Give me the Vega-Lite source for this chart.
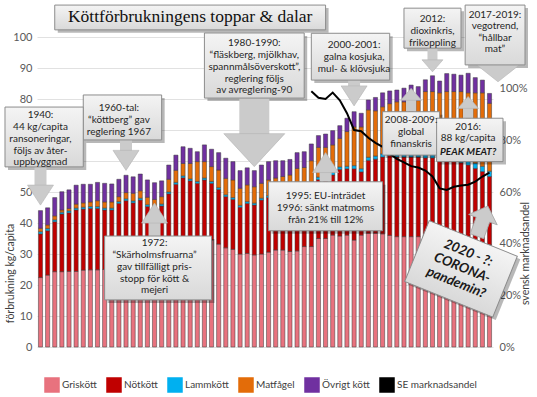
{
  "$schema": "https://vega.github.io/schema/vega-lite/v6.json",
  "width": 456,
  "height": 310,
  "autosize": {"type": "none"},
  "padding": {"left": 37, "top": 37, "right": 44, "bottom": 50},
  "background": "white",
  "config": {
    "view": {"stroke": null},
    "axis": {"labelFont": "Lato", "titleFont": "Lato", "labelColor": "#595959", "titleColor": "#404040", "titleFontWeight": "normal", "domain": false, "ticks": false},
    "text": {"font": "Lato"}
  },
  "datasets": {
    "ordning": [
      {"slag": "Griskött", "ord": 1}, {"slag": "Nötkött", "ord": 2}, {"slag": "Lammkött", "ord": 3}, {"slag": "Matfågel", "ord": 4}, {"slag": "Övrigt kött", "ord": 5}
    ],
    "kott": [
      {"år": "1940", "Griskött": 22.4, "Nötkött": 14.1, "Lammkött": 0.7, "Matfågel": 1.1, "Övrigt kött": 5.7},
      {"år": "1945", "Griskött": 23.2, "Nötkött": 14.3, "Lammkött": 0.7, "Matfågel": 1.2, "Övrigt kött": 5.5},
      {"år": "1950", "Griskött": 24.3, "Nötkött": 16.1, "Lammkött": 0.6, "Matfågel": 1.3, "Övrigt kött": 5.9},
      {"år": "1955", "Griskött": 24.3, "Nötkött": 18.6, "Lammkött": 0.6, "Matfågel": 0.7, "Övrigt kött": 5.9},
      {"år": "1960", "Griskött": 24.4, "Nötkött": 18.9, "Lammkött": 0.6, "Matfågel": 0.8, "Övrigt kött": 6.0},
      {"år": "1961", "Griskött": 24.4, "Nötkött": 19.8, "Lammkött": 0.6, "Matfågel": 1.3, "Övrigt kött": 6.1},
      {"år": "1962", "Griskött": 24.8, "Nötkött": 19.7, "Lammkött": 0.6, "Matfågel": 1.4, "Övrigt kött": 6.0},
      {"år": "1963", "Griskött": 24.9, "Nötkött": 19.8, "Lammkött": 0.6, "Matfågel": 1.5, "Övrigt kött": 5.7},
      {"år": "1964", "Griskött": 24.9, "Nötkött": 19.8, "Lammkött": 0.6, "Matfågel": 1.9, "Övrigt kött": 5.9},
      {"år": "1965", "Griskött": 25.0, "Nötkött": 19.2, "Lammkött": 0.6, "Matfågel": 2.0, "Övrigt kött": 6.0},
      {"år": "1966", "Griskött": 25.5, "Nötkött": 18.7, "Lammkött": 0.6, "Matfågel": 2.0, "Övrigt kött": 5.8},
      {"år": "1967", "Griskött": 26.0, "Nötkött": 20.3, "Lammkött": 0.6, "Matfågel": 1.6, "Övrigt kött": 5.6},
      {"år": "1968", "Griskött": 27.0, "Nötkött": 20.2, "Lammkött": 0.6, "Matfågel": 2.0, "Övrigt kött": 5.6},
      {"år": "1969", "Griskött": 27.5, "Nötkött": 19.0, "Lammkött": 0.6, "Matfågel": 2.5, "Övrigt kött": 5.3},
      {"år": "1970", "Griskött": 28.0, "Nötkött": 19.4, "Lammkött": 0.6, "Matfågel": 2.4, "Övrigt kött": 5.4},
      {"år": "1971", "Griskött": 28.5, "Nötkött": 16.8, "Lammkött": 0.6, "Matfågel": 2.4, "Övrigt kött": 5.6},
      {"år": "1972", "Griskött": 28.0, "Nötkött": 16.4, "Lammkött": 0.6, "Matfågel": 2.6, "Övrigt kött": 5.4},
      {"år": "1973", "Griskött": 29.0, "Nötkött": 16.5, "Lammkött": 0.6, "Matfågel": 2.4, "Övrigt kött": 5.1},
      {"år": "1974", "Griskött": 30.5, "Nötkött": 18.9, "Lammkött": 0.6, "Matfågel": 4.1, "Övrigt kött": 4.6},
      {"år": "1975", "Griskött": 32.0, "Nötkött": 20.5, "Lammkött": 0.6, "Matfågel": 3.9, "Övrigt kött": 4.9},
      {"år": "1976", "Griskött": 33.0, "Nötkött": 21.6, "Lammkött": 0.6, "Matfågel": 4.0, "Övrigt kött": 5.4},
      {"år": "1977", "Griskött": 33.0, "Nötkött": 20.6, "Lammkött": 0.6, "Matfågel": 5.0, "Övrigt kött": 4.9},
      {"år": "1978", "Griskött": 33.5, "Nötkött": 19.3, "Lammkött": 0.6, "Matfågel": 6.4, "Övrigt kött": 3.2},
      {"år": "1979", "Griskött": 34.5, "Nötkött": 19.4, "Lammkött": 0.6, "Matfågel": 5.3, "Övrigt kött": 5.4},
      {"år": "1980", "Griskött": 34.5, "Nötkött": 18.3, "Lammkött": 0.6, "Matfågel": 4.8, "Övrigt kött": 5.6},
      {"år": "1981", "Griskött": 33.2, "Nötkött": 17.6, "Lammkött": 0.6, "Matfågel": 5.7, "Övrigt kött": 5.6},
      {"år": "1982", "Griskött": 32.0, "Nötkött": 16.5, "Lammkött": 0.6, "Matfågel": 5.3, "Övrigt kött": 6.5},
      {"år": "1983", "Griskött": 31.5, "Nötkött": 16.1, "Lammkött": 0.6, "Matfågel": 5.7, "Övrigt kött": 5.9},
      {"år": "1984", "Griskött": 30.0, "Nötkött": 15.1, "Lammkött": 0.6, "Matfågel": 5.5, "Övrigt kött": 5.7},
      {"år": "1985", "Griskött": 30.2, "Nötkött": 16.1, "Lammkött": 0.6, "Matfågel": 5.4, "Övrigt kött": 5.5},
      {"år": "1986", "Griskött": 29.7, "Nötkött": 16.1, "Lammkött": 0.6, "Matfågel": 5.3, "Övrigt kött": 5.2},
      {"år": "1987", "Griskött": 30.0, "Nötkött": 17.4, "Lammkött": 0.6, "Matfågel": 4.8, "Övrigt kött": 5.9},
      {"år": "1988", "Griskött": 30.6, "Nötkött": 17.6, "Lammkött": 0.6, "Matfågel": 5.1, "Övrigt kött": 5.9},
      {"år": "1989", "Griskött": 31.3, "Nötkött": 17.2, "Lammkött": 0.6, "Matfågel": 5.4, "Övrigt kött": 5.6},
      {"år": "1990", "Griskött": 31.3, "Nötkött": 17.2, "Lammkött": 0.6, "Matfågel": 5.9, "Övrigt kött": 5.1},
      {"år": "1991", "Griskött": 30.8, "Nötkött": 17.2, "Lammkött": 0.8, "Matfågel": 6.7, "Övrigt kött": 5.0},
      {"år": "1992", "Griskött": 31.0, "Nötkött": 18.0, "Lammkött": 0.8, "Matfågel": 7.8, "Övrigt kött": 5.1},
      {"år": "1993", "Griskött": 32.4, "Nötkött": 17.6, "Lammkött": 0.8, "Matfågel": 7.1, "Övrigt kött": 5.1},
      {"år": "1994", "Griskött": 32.4, "Nötkött": 19.6, "Lammkött": 0.8, "Matfågel": 7.3, "Övrigt kött": 5.4, "andel": 0.99},
      {"år": "1995", "Griskött": 35.0, "Nötkött": 19.0, "Lammkött": 0.8, "Matfågel": 9.6, "Övrigt kött": 3.8, "andel": 0.965},
      {"år": "1996", "Griskött": 35.0, "Nötkött": 19.5, "Lammkött": 0.8, "Matfågel": 9.1, "Övrigt kött": 4.3, "andel": 0.96},
      {"år": "1997", "Griskött": 36.1, "Nötkött": 19.4, "Lammkött": 0.8, "Matfågel": 8.9, "Övrigt kött": 4.6, "andel": 0.985},
      {"år": "1998", "Griskött": 35.8, "Nötkött": 21.5, "Lammkött": 0.8, "Matfågel": 9.2, "Övrigt kött": 4.1, "andel": 0.955},
      {"år": "1999", "Griskött": 36.1, "Nötkött": 21.4, "Lammkött": 0.8, "Matfågel": 11.2, "Övrigt kött": 4.3, "andel": 0.905},
      {"år": "2000", "Griskött": 34.5, "Nötkött": 23.0, "Lammkött": 1.0, "Matfågel": 12.5, "Övrigt kött": 4.9, "andel": 0.84},
      {"år": "2001", "Griskött": 36.1, "Nötkött": 20.4, "Lammkött": 1.0, "Matfågel": 13.5, "Övrigt kött": 4.4, "andel": 0.835},
      {"år": "2002", "Griskött": 36.7, "Nötkött": 23.5, "Lammkött": 1.0, "Matfågel": 15.3, "Övrigt kött": 3.2, "andel": 0.81},
      {"år": "2003", "Griskött": 36.7, "Nötkött": 23.9, "Lammkött": 1.0, "Matfågel": 14.6, "Övrigt kött": 4.3, "andel": 0.79},
      {"år": "2004", "Griskött": 36.5, "Nötkött": 24.8, "Lammkött": 1.0, "Matfågel": 15.2, "Övrigt kött": 4.5, "andel": 0.775},
      {"år": "2005", "Griskött": 36.0, "Nötkött": 25.8, "Lammkött": 1.0, "Matfågel": 15.7, "Övrigt kött": 4.1, "andel": 0.748},
      {"år": "2006", "Griskött": 35.6, "Nötkött": 25.7, "Lammkött": 1.0, "Matfågel": 16.8, "Övrigt kött": 3.8, "andel": 0.728},
      {"år": "2007", "Griskött": 35.6, "Nötkött": 25.7, "Lammkött": 1.0, "Matfågel": 16.8, "Övrigt kött": 4.4, "andel": 0.715},
      {"år": "2008", "Griskött": 35.6, "Nötkött": 25.7, "Lammkött": 1.0, "Matfågel": 17.7, "Övrigt kött": 4.5, "andel": 0.70},
      {"år": "2009", "Griskött": 35.6, "Nötkött": 25.7, "Lammkött": 1.0, "Matfågel": 17.2, "Övrigt kött": 4.5, "andel": 0.695},
      {"år": "2010", "Griskött": 35.5, "Nötkött": 25.5, "Lammkött": 1.2, "Matfågel": 20.2, "Övrigt kött": 3.8, "andel": 0.683},
      {"år": "2011", "Griskött": 35.5, "Nötkött": 25.5, "Lammkött": 1.2, "Matfågel": 20.2, "Övrigt kött": 5.1, "andel": 0.66},
      {"år": "2012", "Griskött": 35.0, "Nötkött": 25.5, "Lammkött": 1.3, "Matfågel": 20.2, "Övrigt kött": 3.8, "andel": 0.614},
      {"år": "2013", "Griskött": 35.0, "Nötkött": 25.3, "Lammkött": 1.3, "Matfågel": 20.8, "Övrigt kött": 5.8, "andel": 0.608},
      {"år": "2014", "Griskött": 35.0, "Nötkött": 25.0, "Lammkött": 1.3, "Matfågel": 21.1, "Övrigt kött": 5.6, "andel": 0.62},
      {"år": "2015", "Griskött": 34.8, "Nötkött": 24.7, "Lammkött": 1.4, "Matfågel": 21.5, "Övrigt kött": 5.3, "andel": 0.625},
      {"år": "2016", "Griskött": 34.5, "Nötkött": 24.2, "Lammkött": 1.5, "Matfågel": 21.8, "Övrigt kött": 6.3, "andel": 0.628},
      {"år": "2017", "Griskött": 34.0, "Nötkött": 23.6, "Lammkött": 1.7, "Matfågel": 22.7, "Övrigt kött": 4.9, "andel": 0.64},
      {"år": "2018", "Griskött": 33.5, "Nötkött": 23.1, "Lammkött": 1.7, "Matfågel": 23.7, "Övrigt kött": 4.1, "andel": 0.66},
      {"år": "2019", "Griskött": 33.0, "Nötkött": 22.0, "Lammkött": 1.7, "Matfågel": 21.9, "Övrigt kött": 3.2, "andel": 0.675}
    ],
    "rutor": [
      {"id": "titel", "typ": "vanlig", "x1": "1950", "x2": "1996", "yt": 110.3, "yb": 102.3},
      {"id": "1960", "typ": "vanlig", "x1": "1962", "x2": "1973", "yt": 81.3, "yb": 66.8},
      {"id": "1980", "typ": "vanlig", "x1": "1979", "x2": "1993", "yt": 101.3, "yb": 80.3},
      {"id": "2000", "typ": "vanlig", "x1": "1994", "x2": "2005", "yt": 101.2, "yb": 86.1},
      {"id": "2012", "typ": "vanlig", "x1": "2007", "x2": "2015", "yt": 109.3, "yb": 96.4},
      {"id": "2008", "typ": "vanlig", "x1": "2004", "x2": "2012", "yt": 75.9, "yb": 61.9},
      {"id": "1995", "typ": "vanlig", "x1": "1988", "x2": "2004", "yt": 53.3, "yb": 37.5},
      {"id": "1972", "typ": "vanlig", "x1": "1965", "x2": "1980", "yt": 35.8, "yb": 15.2},
      {"id": "1940", "typ": "vanster", "x1": "1940", "x2": "1962", "yt": 77.4, "yb": 58.1},
      {"id": "2016", "typ": "hoger1", "x1": "2012", "x2": "2019", "yt": 73.8, "yb": 59.8},
      {"id": "2017", "typ": "hoger2", "x1": "2016", "x2": "2019", "yt": 110.3, "yb": 91.0}
    ],
    "texter": [
      {"id": "1940", "cx": "1940", "cy": 74.8, "txt": "1940:\n44 kg/capita\nransoneringar,\nföljs av åter-\nuppbyggnad"},
      {"id": "1960", "cx": "1967", "cy": 77.1, "txt": "1960-tal:\n“köttberg” gav\nreglering 1967"},
      {"id": "1980", "cx": "1986", "cy": 98.0, "txt": "1980-1990:\n“fläskberg, mjölkhav,\nspannmålsöverskott”,\nreglering följs\nav avreglering-90"},
      {"id": "2000", "cx": "2000", "cy": 97.4, "txt": "2000-2001:\ngalna kosjuka,\nmul- & klövsjuka"},
      {"id": "2012", "cx": "2011", "cy": 105.8, "txt": "2012:\ndioxinkris,\nfrikoppling"},
      {"id": "2008", "cx": "2008", "cy": 73.2, "txt": "2008-2009:\nglobal\nfinanskris"},
      {"id": "1995", "cx": "1996", "cy": 48.7, "txt": "1995: EU-inträdet\n1996: sänkt matmoms\nfrån 21% till 12%"},
      {"id": "1972", "cx": "1972", "cy": 33.5, "txt": "1972:\n“Skärholmsfruarna”\ngav tillfälligt pris-\nstopp för kött &\nmejeri"},
      {"id": "2016", "cx": "2016", "cy": 71.1, "txt": "2016:\n88 kg/capita"},
      {"id": "peak", "cx": "2016", "cy": 63.0, "txt": "PEAK MEAT?"},
      {"id": "2017", "cx": "2019", "cy": 107.1, "txt": "2017-2019:\nvegotrend,\n“hållbar\nmat”"},
      {"id": "titel", "cx": "1977", "cy": 106.3, "txt": "Köttförbrukningens toppar & dalar"},
      {"id": "corona", "cx": "2015", "cy": 25.2, "txt": ""},
      {"id": "coronatext", "cx": "2016", "cy": 30.3, "txt": "2020 - ?:\nCORONA-\npandemin?"}
    ],
    "pilar": [
      {"id": "1940", "typ": "ned", "x": "1940", "s1": 58.1, "s2": 51.0, "h": 49.0},
      {"id": "1960", "typ": "ned", "x": "1968", "s1": 66.8, "s2": 62.0, "h": 60.2},
      {"id": "1980", "typ": "stor", "x": "1986", "s1": 80.3, "s2": 66.0, "h": 63.5},
      {"id": "2000", "typ": "ned", "x": "2000", "s1": 86.1, "s2": 82.8, "h": 81.0},
      {"id": "2012", "typ": "ned2", "x": "2011", "s1": 96.4, "s2": 91.5, "h": 90.7},
      {"id": "2017", "typ": "bred", "x": "2019", "s1": 91.0, "s2": 91.0, "h": 88.3},
      {"id": "2008", "typ": "upp2", "x": "2008", "s1": 75.9, "s2": 80.5, "h": 81.5},
      {"id": "2016", "typ": "upp2", "x": "2016", "s1": 73.8, "s2": 78.0, "h": 78.9},
      {"id": "1995", "typ": "upp", "x": "1996", "s1": 53.3, "s2": 57.8, "h": 59.5},
      {"id": "1972", "typ": "upp", "x": "1972", "s1": 35.8, "s2": 41.5, "h": 43.2},
      {"id": "corona", "typ": "snett", "x": "2018", "s1": 40.6, "s2": 40.6, "h": 40.6}
    ]
  },
  "resolve": {"scale": {"y": "independent"}},
  "layer": [
    {
      "data": {"name": "kott"},
      "transform": [
        {"fold": ["Griskött", "Nötkött", "Lammkött", "Matfågel", "Övrigt kött"], "as": ["slag", "kg"]},
        {"lookup": "slag", "from": {"data": {"name": "ordning"}, "key": "slag", "fields": ["ord"]}}
      ],
      "mark": {"type": "bar", "stroke": "#3b3b3b", "strokeWidth": 0.5},
      "encoding": {
        "x": {
          "field": "år", "type": "ordinal",
          "scale": {"domain": ["1940","1945","1950","1955","1960","1961","1962","1963","1964","1965","1966","1967","1968","1969","1970","1971","1972","1973","1974","1975","1976","1977","1978","1979","1980","1981","1982","1983","1984","1985","1986","1987","1988","1989","1990","1991","1992","1993","1994","1995","1996","1997","1998","1999","2000","2001","2002","2003","2004","2005","2006","2007","2008","2009","2010","2011","2012","2013","2014","2015","2016","2017","2018","2019"], "paddingInner": 0.42, "paddingOuter": 0.2},
          "axis": {"title": null, "values": ["1940","1950","1960","1962","1964","1966","1968","1970","1972","1974","1976","1978","1980","1982","1984","1986","1988","1990","1992","1994","1996","1998","2000","2002","2004","2006","2008","2010","2012","2014","2016","2018"], "labelAngle": 90, "labelFontSize": 10, "domain": true, "domainColor": "#bfbfbf", "labelPadding": 4}
        },
        "y": {
          "field": "kg", "type": "quantitative", "stack": "zero",
          "scale": {"domain": [0, 100]},
          "axis": {"orient": "left", "title": "förbrukning kg/capita", "values": [0,10,20,30,40,50,60,70,80,90,100], "labelExpr": "datum.value == 60 || datum.value == 70 ? '' : datum.label", "grid": true, "gridColor": "#d9d9d9", "gridWidth": 0.8, "labelFontSize": 11, "labelPadding": 5, "titleFontSize": 10.5, "titleY": 236, "titleX": -22}
        },
        "color": {
          "field": "slag", "type": "nominal",
          "scale": {"domain": ["Griskött", "Nötkött", "Lammkött", "Matfågel", "Övrigt kött", "SE marknadsandel"], "range": ["#e8727e", "#c00000", "#00b0f0", "#e36c09", "#7030a0", "#000000"]},
          "legend": {
            "title": null, "orient": "none", "legendX": 7, "legendY": 340, "direction": "horizontal", "columns": 6,
            "labelFont": "Lato", "labelFontSize": 10, "labelColor": "#404040", "symbolSize": 196, "columnPadding": 7, "labelOffset": 2,
            "encode": {"symbols": {"update": {
              "shape": {"signal": "datum.value === 'SE marknadsandel' ? 'M-1,-0.12L1,-0.12L1,0.12L-1,0.12Z' : 'M-1,-0.55L1,-0.55L1,0.55L-1,0.55Z'"},
              "fill": {"signal": "scale('color', datum.value)"},
              "stroke": {"signal": "datum.value === 'SE marknadsandel' ? '#000000' : '#404040'"},
              "strokeWidth": {"signal": "datum.value === 'SE marknadsandel' ? 0.3 : 0.8"},
              "opacity": {"value": 1}
            }}}
          }
        },
        "order": {"field": "ord", "type": "quantitative"}
      }
    },
    {
      "data": {"name": "kott"},
      "transform": [{"filter": {"field": "andel", "valid": true}}],
      "mark": {"type": "line", "strokeWidth": 2},
      "encoding": {
        "x": {"field": "år", "type": "ordinal", "axis": null},
        "y": {"field": "andel", "type": "quantitative", "scale": {"domain": [0, 1.2]},
          "axis": {"orient": "right", "title": "svensk marknadsandel", "values": [0, 0.2, 0.4, 0.6, 0.8, 1], "format": ".0%", "grid": false, "labelFontSize": 11, "labelPadding": 6, "titleFontSize": 10.5, "titleAngle": 270, "titleY": 216}},
        "color": {"datum": "SE marknadsandel"}
      }
    },
    {
      "layer": [
        {
          "data": {"name": "rutor"}, "transform": [{"filter": {"field": "typ", "equal": "vanlig"}}],
          "mark": {"type": "rect", "fill": "#000000", "fillOpacity": 0.28, "xOffset": 3, "x2Offset": 3, "yOffset": 3, "y2Offset": 3},
          "encoding": {"x": {"field": "x1", "type": "ordinal", "axis": null}, "x2": {"field": "x2"}, "y": {"field": "yt", "type": "quantitative", "scale": {"domain": [0, 100]}, "axis": null}, "y2": {"field": "yb"}}
        },
        {
          "data": {"name": "rutor"}, "transform": [{"filter": {"field": "typ", "equal": "vanster"}}],
          "mark": {"type": "rect", "fill": "#000000", "fillOpacity": 0.28, "xOffset": -32.5, "x2Offset": 3, "yOffset": 3, "y2Offset": 3},
          "encoding": {"x": {"field": "x1", "type": "ordinal", "axis": null}, "x2": {"field": "x2"}, "y": {"field": "yt", "type": "quantitative", "scale": {"domain": [0, 100]}, "axis": null}, "y2": {"field": "yb"}}
        },
        {
          "data": {"name": "rutor"}, "transform": [{"filter": {"field": "typ", "equal": "hoger1"}}],
          "mark": {"type": "rect", "fill": "#000000", "fillOpacity": 0.28, "xOffset": 0, "x2Offset": 16.5, "yOffset": 3, "y2Offset": 3},
          "encoding": {"x": {"field": "x1", "type": "ordinal", "axis": null}, "x2": {"field": "x2"}, "y": {"field": "yt", "type": "quantitative", "scale": {"domain": [0, 100]}, "axis": null}, "y2": {"field": "yb"}}
        },
        {
          "data": {"name": "rutor"}, "transform": [{"filter": {"field": "typ", "equal": "hoger2"}}],
          "mark": {"type": "rect", "fill": "#000000", "fillOpacity": 0.28, "xOffset": 0, "x2Offset": 38.5, "yOffset": 3, "y2Offset": 3},
          "encoding": {"x": {"field": "x1", "type": "ordinal", "axis": null}, "x2": {"field": "x2"}, "y": {"field": "yt", "type": "quantitative", "scale": {"domain": [0, 100]}, "axis": null}, "y2": {"field": "yb"}}
        },
        {
          "data": {"name": "pilar"}, "transform": [{"filter": {"field": "typ", "oneOf": ["ned", "upp"]}}],
          "mark": {"type": "rule", "color": "#cbcbcb", "strokeWidth": 12, "strokeCap": "butt"},
          "encoding": {"x": {"field": "x", "type": "ordinal", "axis": null}, "y": {"field": "s1", "type": "quantitative", "scale": {"domain": [0, 100]}, "axis": null}, "y2": {"field": "s2"}}
        },
        {
          "data": {"name": "pilar"}, "transform": [{"filter": {"field": "typ", "oneOf": ["ned2", "upp2"]}}],
          "mark": {"type": "rule", "color": "#cbcbcb", "strokeWidth": 10, "strokeCap": "butt"},
          "encoding": {"x": {"field": "x", "type": "ordinal", "axis": null}, "y": {"field": "s1", "type": "quantitative", "scale": {"domain": [0, 100]}, "axis": null}, "y2": {"field": "s2"}}
        },
        {
          "data": {"name": "pilar"}, "transform": [{"filter": {"field": "typ", "equal": "stor"}}],
          "mark": {"type": "rule", "color": "#cbcbcb", "strokeWidth": 30, "strokeCap": "butt"},
          "encoding": {"x": {"field": "x", "type": "ordinal", "axis": null}, "y": {"field": "s1", "type": "quantitative", "scale": {"domain": [0, 100]}, "axis": null}, "y2": {"field": "s2"}}
        },
        {
          "data": {"name": "pilar"}, "transform": [{"filter": {"field": "typ", "oneOf": ["ned", "upp", "ned2", "upp2", "stor", "bred"]}}],
          "mark": {"type": "point", "filled": true, "size": 3721, "fill": "#cbcbcb", "stroke": "#b3b3b3", "strokeWidth": 0.6, "opacity": 1},
          "encoding": {
            "x": {"field": "x", "type": "ordinal", "axis": null},
            "y": {"field": "h", "type": "quantitative", "scale": {"domain": [0, 100]}, "axis": null},
            "shape": {"field": "typ", "type": "nominal", "legend": null, "scale": {"domain": ["ned", "upp", "ned2", "upp2", "stor", "bred"], "range": [
              "M-0.426,-0.328L0.426,-0.328L0,0.328Z",
              "M-0.426,0.328L0.426,0.328L0,-0.328Z",
              "M-0.344,-0.197L0.344,-0.197L0,0.197Z",
              "M-0.344,0.197L0.344,0.197L0,-0.197Z",
              "M-1,-0.541L1,-0.541L0,0.541Z",
              "M-0.426,-0.279L0.984,-0.279L0.279,0.279Z"
            ]}}
          }
        },
        {
          "data": {"name": "rutor"}, "transform": [{"filter": {"field": "typ", "equal": "vanlig"}}],
          "mark": {"type": "rect", "stroke": "#8c8c8c", "strokeWidth": 1, "fill": {"gradient": "linear", "x1": 0, "y1": 0, "x2": 0, "y2": 1, "stops": [{"offset": 0, "color": "#f4f4f4"}, {"offset": 1, "color": "#d9d9d9"}]}},
          "encoding": {"x": {"field": "x1", "type": "ordinal", "axis": null}, "x2": {"field": "x2"}, "y": {"field": "yt", "type": "quantitative", "scale": {"domain": [0, 100]}, "axis": null}, "y2": {"field": "yb"}}
        },
        {
          "data": {"name": "rutor"}, "transform": [{"filter": {"field": "typ", "equal": "vanster"}}],
          "mark": {"type": "rect", "stroke": "#8c8c8c", "strokeWidth": 1, "xOffset": -35.5, "fill": {"gradient": "linear", "x1": 0, "y1": 0, "x2": 0, "y2": 1, "stops": [{"offset": 0, "color": "#f4f4f4"}, {"offset": 1, "color": "#d9d9d9"}]}},
          "encoding": {"x": {"field": "x1", "type": "ordinal", "axis": null}, "x2": {"field": "x2"}, "y": {"field": "yt", "type": "quantitative", "scale": {"domain": [0, 100]}, "axis": null}, "y2": {"field": "yb"}}
        },
        {
          "data": {"name": "rutor"}, "transform": [{"filter": {"field": "typ", "equal": "hoger1"}}],
          "mark": {"type": "rect", "stroke": "#8c8c8c", "strokeWidth": 1, "xOffset": -3, "x2Offset": 13.5, "fill": {"gradient": "linear", "x1": 0, "y1": 0, "x2": 0, "y2": 1, "stops": [{"offset": 0, "color": "#f4f4f4"}, {"offset": 1, "color": "#d9d9d9"}]}},
          "encoding": {"x": {"field": "x1", "type": "ordinal", "axis": null}, "x2": {"field": "x2"}, "y": {"field": "yt", "type": "quantitative", "scale": {"domain": [0, 100]}, "axis": null}, "y2": {"field": "yb"}}
        },
        {
          "data": {"name": "rutor"}, "transform": [{"filter": {"field": "typ", "equal": "hoger2"}}],
          "mark": {"type": "rect", "stroke": "#8c8c8c", "strokeWidth": 1, "xOffset": -3, "x2Offset": 35.5, "fill": {"gradient": "linear", "x1": 0, "y1": 0, "x2": 0, "y2": 1, "stops": [{"offset": 0, "color": "#f4f4f4"}, {"offset": 1, "color": "#d9d9d9"}]}},
          "encoding": {"x": {"field": "x1", "type": "ordinal", "axis": null}, "x2": {"field": "x2"}, "y": {"field": "yt", "type": "quantitative", "scale": {"domain": [0, 100]}, "axis": null}, "y2": {"field": "yb"}}
        },
        {
          "data": {"name": "texter"}, "transform": [{"filter": {"field": "id", "oneOf": ["1940", "1960", "1980", "2000", "2012", "2008", "1995", "1972", "2016"]}}],
          "mark": {"type": "text", "font": "Lato", "fontSize": 10, "color": "#262626", "align": "center", "baseline": "middle", "lineBreak": "\n", "lineHeight": 11.8},
          "encoding": {"x": {"field": "cx", "type": "ordinal", "axis": null}, "y": {"field": "cy", "type": "quantitative", "scale": {"domain": [0, 100]}, "axis": null}, "text": {"field": "txt"}}
        },
        {
          "data": {"name": "texter"}, "transform": [{"filter": {"field": "id", "equal": "2017"}}],
          "mark": {"type": "text", "font": "Lato", "fontSize": 10, "color": "#262626", "align": "center", "baseline": "middle", "lineBreak": "\n", "lineHeight": 11.5, "dx": 5.5},
          "encoding": {"x": {"field": "cx", "type": "ordinal", "axis": null}, "y": {"field": "cy", "type": "quantitative", "scale": {"domain": [0, 100]}, "axis": null}, "text": {"field": "txt"}}
        },
        {
          "data": {"name": "texter"}, "transform": [{"filter": {"field": "id", "equal": "peak"}}],
          "mark": {"type": "text", "font": "Lato", "fontSize": 10, "fontWeight": "bold", "fontStyle": "italic", "color": "#1a1a1a", "align": "center", "baseline": "middle"},
          "encoding": {"x": {"field": "cx", "type": "ordinal", "axis": null}, "y": {"field": "cy", "type": "quantitative", "scale": {"domain": [0, 100]}, "axis": null}, "text": {"field": "txt"}}
        },
        {
          "data": {"name": "texter"}, "transform": [{"filter": {"field": "id", "equal": "titel"}}],
          "mark": {"type": "text", "font": "Liberation Serif", "fontSize": 17.5, "color": "#111111", "align": "center", "baseline": "middle"},
          "encoding": {"x": {"field": "cx", "type": "ordinal", "axis": null}, "y": {"field": "cy", "type": "quantitative", "scale": {"domain": [0, 100]}, "axis": null}, "text": {"field": "txt"}}
        },
        {
          "data": {"name": "pilar"}, "transform": [{"filter": {"field": "typ", "equal": "snett"}}],
          "mark": {"type": "point", "filled": true, "size": 1024, "angle": 20, "opacity": 1, "fill": "#cbcbcb", "stroke": "#a8a8a8", "strokeWidth": 0.8, "shape": "M0,-1L0.95,-0.1L0.45,-0.1L0.45,1L-0.45,1L-0.45,-0.1L-0.95,-0.1Z"},
          "encoding": {"x": {"field": "x", "type": "ordinal", "axis": null}, "y": {"field": "h", "type": "quantitative", "scale": {"domain": [0, 100]}, "axis": null}}
        },
        {
          "data": {"name": "texter"}, "transform": [{"filter": {"field": "id", "equal": "corona"}}],
          "mark": {"type": "point", "filled": true, "size": 9025, "angle": 22, "opacity": 1, "fill": "#000000", "fillOpacity": 0.28, "xOffset": 3, "yOffset": 3, "shape": "M-1,-0.69L1,-0.69L1,0.69L-1,0.69Z"},
          "encoding": {"x": {"field": "cx", "type": "ordinal", "axis": null}, "y": {"field": "cy", "type": "quantitative", "scale": {"domain": [0, 100]}, "axis": null}}
        },
        {
          "data": {"name": "texter"}, "transform": [{"filter": {"field": "id", "equal": "corona"}}],
          "mark": {"type": "point", "filled": true, "size": 9025, "angle": 22, "opacity": 1, "stroke": "#8c8c8c", "strokeWidth": 1, "fill": {"gradient": "linear", "x1": 0, "y1": 0, "x2": 0, "y2": 1, "stops": [{"offset": 0, "color": "#f4f4f4"}, {"offset": 1, "color": "#d9d9d9"}]}, "shape": "M-1,-0.69L1,-0.69L1,0.69L-1,0.69Z"},
          "encoding": {"x": {"field": "cx", "type": "ordinal", "axis": null}, "y": {"field": "cy", "type": "quantitative", "scale": {"domain": [0, 100]}, "axis": null}}
        },
        {
          "data": {"name": "texter"}, "transform": [{"filter": {"field": "id", "equal": "coronatext"}}],
          "mark": {"type": "text", "font": "Lato", "fontSize": 13.5, "fontWeight": "bold", "fontStyle": "italic", "color": "#1a1a1a", "align": "center", "baseline": "middle", "lineBreak": "\n", "lineHeight": 16, "angle": 22},
          "encoding": {"x": {"field": "cx", "type": "ordinal", "axis": null}, "y": {"field": "cy", "type": "quantitative", "scale": {"domain": [0, 100]}, "axis": null}, "text": {"field": "txt"}}
        }
      ]
    }
  ]
}
